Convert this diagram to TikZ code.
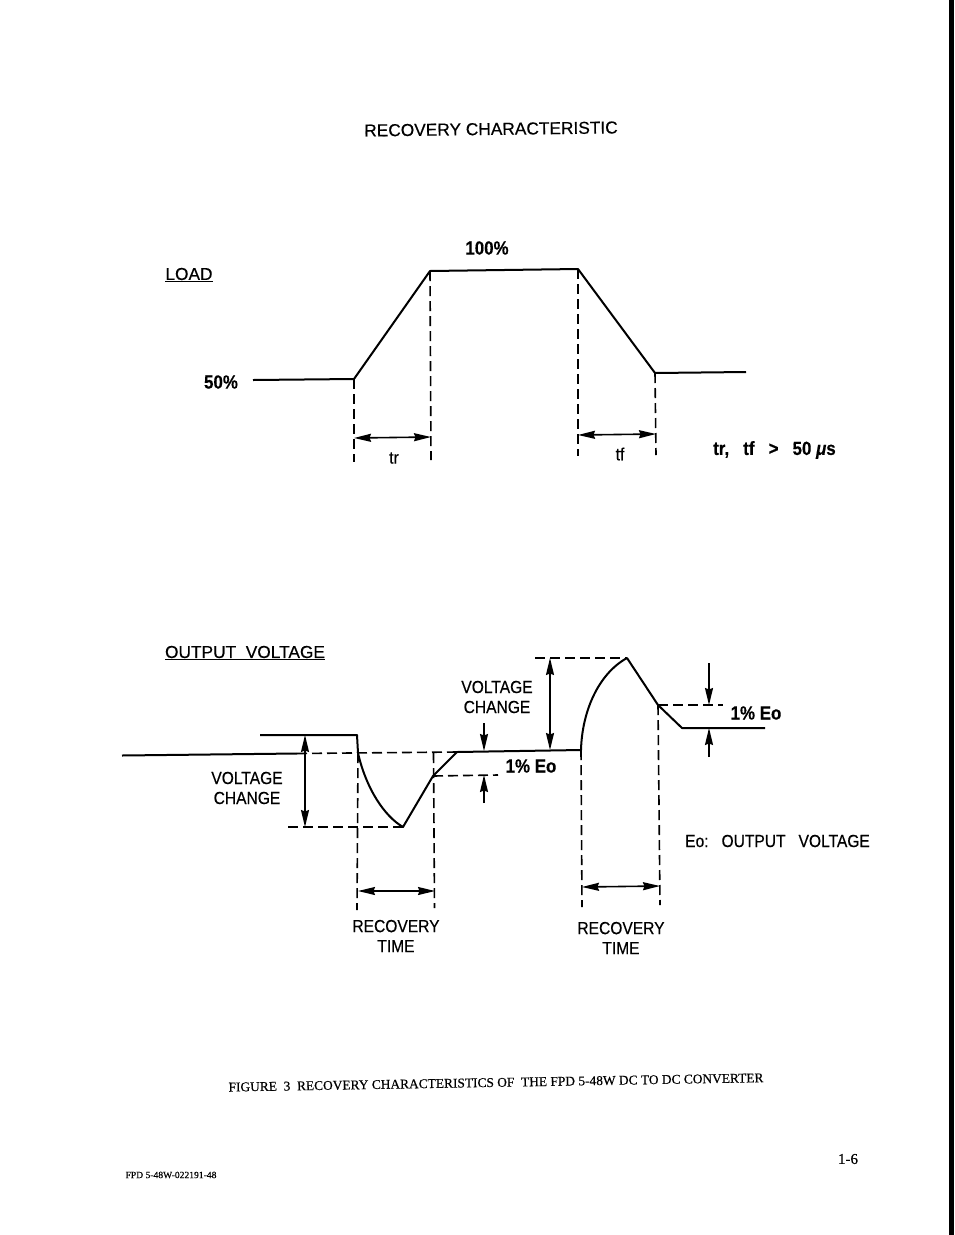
\documentclass[tikz,border=0pt]{standalone}
\usepackage{fontspec}
\setmainfont{Liberation Sans}[FakeStretch=0.89, FakeBold=0.4]
\newfontfamily\wideface{Liberation Sans}[FakeBold=0.4]
\newfontfamily\capfont{Liberation Serif}[FakeBold=0.4]
\usetikzlibrary{arrows.meta}

\tikzset{
    wave/.style={line width=2pt, line join=round},
    dashline/.style={line width=1.6pt, dash pattern=on 10pt off 5pt},
    dim/.style={line width=1.6pt, {Stealth[length=17pt,width=8pt,inset=1.5pt]}-{Stealth[length=17pt,width=8pt,inset=1.5pt]}},
    pointer/.style={line width=1.6pt, -{Stealth[length=17pt,width=8pt,inset=1.5pt]}},
    lbl/.style={font=\fontsize{17.5}{20}\selectfont, inner sep=0pt, align=center},
    wide/.style={lbl, font=\wideface\fontsize{17.3}{20}\selectfont},
    heavy/.style={lbl, font=\fontsize{19}{20}\selectfont\bfseries}
}

\begin{document}
\begin{tikzpicture}[x=1pt, y=-1pt]
        \useasboundingbox (0,0) rectangle (954,1235);
        \fill[black] (949,0) rectangle (954,1235);

        \node[wide, rotate=0.7] (title) at (491,129) {RECOVERY CHARACTERISTIC};
        \node[wide]             (load)  at (189,275) {\underline{LOAD}};
        \node[heavy]            (full)  at (487,248) {100\%};
        \node[heavy]            (half)  at (221,382) {50\%};
        \node[lbl]              (tr)    at (394,458) {tr};
        \node[lbl]              (tf)    at (620,454) {tf};
        \node[heavy, anchor=west] (spec) at (713,450) {tr,\ \ \ tf\ \ \ >\ \ \ 50\ \textit{μ}s};

        \coordinate (a0) at (253,380);
        \coordinate (a1) at (354,379);
        \coordinate (a2) at (430,271);
        \coordinate (a3) at (578,269);
        \coordinate (a4) at (655,373);
        \coordinate (a5) at (746,372);
        \coordinate (a1e) at (354,462);
        \coordinate (a2e) at (431,460);
        \coordinate (a3e) at (578,456);
        \coordinate (a4e) at (656,455);
        \coordinate (a1m) at (354,438);
        \coordinate (a2m) at (431,437);
        \coordinate (a3m) at (578,435);
        \coordinate (a4m) at (656,434);

        \draw[wave] (a0) -- (a1) -- (a2) -- (a3) -- (a4) -- (a5);
        \draw[dashline] (a1) -- (a1e);
        \draw[dashline] (a2) -- (a2e);
        \draw[dashline] (a3) -- (a3e);
        \draw[dashline] (a4) -- (a4e);
        \draw[dim] (a1m) -- (a2m);
        \draw[dim] (a3m) -- (a4m);

        \node[wide] (output) at (245,653) {\underline{OUTPUT\ \ VOLTAGE}};
        \node[lbl] (dropv)   at (247,788) {VOLTAGE\\CHANGE};
        \node[lbl] (risev)   at (497,697) {VOLTAGE\\CHANGE};
        \node[heavy] (pctl)  at (531,766) {1\% Eo};
        \node[heavy] (pctr)  at (756,713) {1\% Eo};
        \node[lbl, anchor=west] (eo) at (685,841) {Eo:\ \ \ OUTPUT\ \ \ VOLTAGE};
        \node[lbl] (recl)    at (396,936) {RECOVERY\\TIME};
        \node[lbl] (recr)    at (621,938) {RECOVERY\\TIME};

        \coordinate (b0) at (122,755.5);
        \coordinate (b1) at (297,753.5);
        \coordinate (c0) at (260,735);
        \coordinate (c1) at (357,735);
        \coordinate (c2) at (358,753);
        \coordinate (c3) at (403,827);
        \coordinate (c4) at (433,776);
        \coordinate (c5) at (457,752);
        \coordinate (c6) at (581,750);
        \coordinate (c7) at (627,658);
        \coordinate (c8) at (658,705);
        \coordinate (c9) at (682,728);
        \coordinate (c10) at (765,728);
        \coordinate (dl) at (288,827);
        \coordinate (dt) at (535,658);
        \coordinate (pl) at (498,775);
        \coordinate (pr) at (723,705);

        \draw[wave] (b0) -- (b1);
        \draw[wave] (c0) -- (c1) -- (c2) .. controls (366,788) and (384,816) .. (c3)
            -- (c4) -- (c5) -- (c6)
            .. controls (582,712) and (598,674) .. (c7)
            -- (c8) -- (c9) -- (c10);

        \draw[dashline] (b1) -- (c5);
        \draw[dashline] (dl) -- (c3);
        \draw[dashline] (c4) -- (pl);
        \draw[dashline] (dt) -- (c7);
        \draw[dashline] (c8) -- (pr);
        \draw[dashline] (c2) -- (357,910);
        \draw[dashline] (433.5,753) -- (434.5,908);
        \draw[dashline] (c6) -- (582,907);
        \draw[dashline] (c8) -- (660,905);

        \draw[dim] (305,735) -- (305,827);
        \draw[dim] (550,658) -- (550,750);
        \draw[dim] (358,891) -- (435,891);
        \draw[dim] (582,887) -- (660,886);

        \draw[pointer] (484,723) -- (484,751);
        \draw[pointer] (484,803) -- (484,775);
        \draw[pointer] (709,663) -- (709,705);
        \draw[pointer] (709,757) -- (709,728);

        \node[font=\capfont\fontsize{13.4}{15}\selectfont, inner sep=0pt, rotate=1] (caption) at (496,1082.5)
            {FIGURE\ \ 3\ \ RECOVERY CHARACTERISTICS OF\ \ THE FPD 5-48W DC TO DC CONVERTER};
        \node[font=\capfont\fontsize{9.6}{10}\selectfont, inner sep=0pt] (code) at (171,1175) {FPD 5-48W-022191-48};
        \node[font=\capfont\fontsize{15}{18}\selectfont, inner sep=0pt] (page) at (848,1159) {1-6};
\end{tikzpicture}
\end{document}
